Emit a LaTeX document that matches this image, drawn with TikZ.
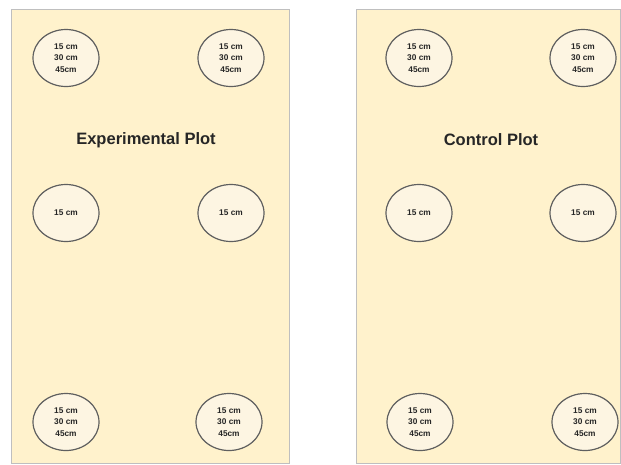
\documentclass[tikz,border=0pt]{standalone}
\usepackage{fontspec}
\setmainfont{Liberation Sans}
\usetikzlibrary{shapes.geometric}
\definecolor{plotfill}{HTML}{FFF2CC}
\definecolor{plotborder}{HTML}{BFBFBF}
\definecolor{holefill}{HTML}{FDF5E2}
\definecolor{holeline}{HTML}{5F5F5F}
\begin{document}
\begin{tikzpicture}[x=1pt,y=-1pt,
  plot/.style={fill=plotfill,draw=plotborder,line width=0.8pt},
  hole/.style={ellipse,draw=holeline,fill=holefill,line width=1.2pt,
    minimum width=66pt,minimum height=57pt,inner sep=0pt,align=center,
    font=\fontsize{8.3}{11.5}\selectfont\bfseries,text=black!85},
  title/.style={font=\fontsize{16.5}{18}\selectfont\bfseries,text=black!85}]
\useasboundingbox (0,0) rectangle (621,464);
\fill[white] (0,0) rectangle (621,464);
\draw[plot] (11,9) rectangle (289,463);
\draw[plot] (356,9) rectangle (620,463);
% Experimental plot
\node[title] (t1) at (146,140) {Experimental Plot};
\node[hole] (e1) at (66,58) {15 cm\\30 cm\\45cm};
\node[hole] (e2) at (231,58) {15 cm\\30 cm\\45cm};
\node[hole] (e3) at (66,213) {15 cm};
\node[hole] (e4) at (231,213) {15 cm};
\node[hole] (e5) at (66,422) {15 cm\\30 cm\\45cm};
\node[hole] (e6) at (229,422) {15 cm\\30 cm\\45cm};
% Control plot
\node[title] (t2) at (491,140) {Control Plot};
\node[hole] (c1) at (419,58) {15 cm\\30 cm\\45cm};
\node[hole] (c2) at (583,58) {15 cm\\30 cm\\45cm};
\node[hole] (c3) at (419,213) {15 cm};
\node[hole] (c4) at (583,213) {15 cm};
\node[hole] (c5) at (420,422) {15 cm\\30 cm\\45cm};
\node[hole] (c6) at (585,422) {15 cm\\30 cm\\45cm};
\end{tikzpicture}
\end{document}
